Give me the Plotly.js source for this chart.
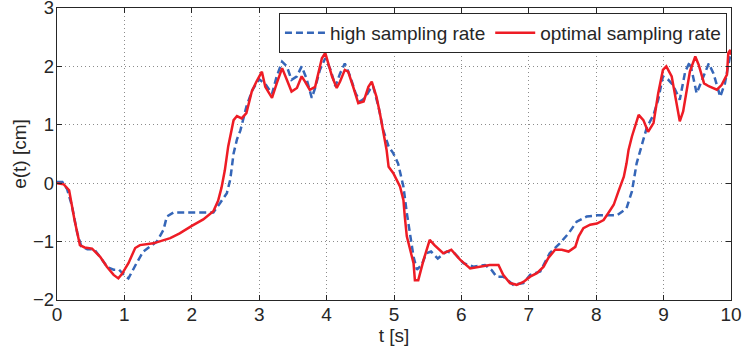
<!DOCTYPE html>
<html>
<head>
<meta charset="utf-8">
<script src="https://cdn.plot.ly/plotly-3.0.1.min.js"></script>
<style>html,body{margin:0;padding:0;background:#fff;}#chart{width:744px;height:351px;}</style>
</head>
<body>
<div id="chart"></div>
<script>
const tRed = [0,0.1,0.18,0.22,0.26,0.34,0.41,0.52,0.64,0.74,0.84,0.91,0.96,1.06,1.16,1.23,1.43,1.68,1.82,2.0,2.17,2.32,2.39,2.44,2.49,2.54,2.62,2.67,2.74,2.81,2.89,2.96,3.04,3.09,3.19,3.26,3.34,3.41,3.48,3.56,3.63,3.68,3.75,3.83,3.88,3.93,3.98,4.03,4.08,4.15,4.2,4.27,4.32,4.4,4.47,4.55,4.62,4.67,4.74,4.79,4.84,4.89,4.92,4.99,5.09,5.14,5.16,5.19,5.24,5.29,5.31,5.36,5.44,5.53,5.6,5.73,5.85,5.98,6.13,6.28,6.42,6.55,6.62,6.72,6.82,6.92,7.02,7.12,7.22,7.29,7.39,7.49,7.59,7.69,7.74,7.81,7.91,8.01,8.11,8.18,8.26,8.33,8.41,8.45,8.48,8.53,8.58,8.63,8.7,8.77,8.85,8.92,8.99,9.04,9.12,9.19,9.24,9.29,9.34,9.39,9.47,9.52,9.6,9.67,9.79,9.86,9.94,9.96,9.99,10];
const eRed = [0,-0.02,-0.12,-0.4,-0.63,-1.06,-1.1,-1.12,-1.26,-1.43,-1.57,-1.63,-1.56,-1.37,-1.11,-1.06,-1.03,-0.94,-0.86,-0.73,-0.62,-0.48,-0.3,-0.08,0.22,0.63,1.08,1.15,1.11,1.2,1.57,1.74,1.91,1.65,1.46,1.71,1.97,1.77,1.57,1.63,1.83,1.74,1.6,1.65,1.91,2.14,2.23,2.05,1.83,1.63,1.74,1.94,1.91,1.63,1.37,1.4,1.65,1.74,1.48,1.2,0.86,0.57,0.28,0.17,-0.06,-0.29,-0.57,-0.91,-1.14,-1.37,-1.66,-1.66,-1.31,-0.97,-1.06,-1.2,-1.14,-1.31,-1.46,-1.43,-1.4,-1.4,-1.57,-1.71,-1.74,-1.69,-1.6,-1.54,-1.43,-1.28,-1.14,-1.14,-1.17,-1.09,-0.91,-0.77,-0.71,-0.69,-0.63,-0.51,-0.37,-0.14,0.11,0.34,0.57,0.8,0.97,1.17,1.08,0.88,1.03,1.54,1.94,2.0,1.83,1.37,1.06,1.23,1.6,1.91,2.17,2.03,1.71,1.66,1.6,1.68,1.86,2.23,2.28,2.2];
const tBlue = [0,0.08,0.15,0.22,0.3,0.36,0.45,0.55,0.65,0.75,0.84,0.92,1.0,1.06,1.18,1.28,1.48,1.58,1.63,1.73,2.0,2.32,2.42,2.52,2.57,2.62,2.67,2.72,2.81,2.9,3.0,3.09,3.19,3.26,3.34,3.41,3.48,3.56,3.63,3.7,3.78,3.83,3.9,3.98,4.06,4.13,4.2,4.27,4.35,4.43,4.5,4.57,4.64,4.69,4.77,4.84,4.92,4.99,5.06,5.14,5.19,5.24,5.29,5.34,5.41,5.48,5.55,5.65,5.78,5.9,6.03,6.18,6.35,6.45,6.52,6.62,6.77,6.92,7.02,7.17,7.31,7.46,7.59,7.71,7.86,8.01,8.31,8.45,8.53,8.6,8.68,8.75,8.85,8.92,8.99,9.07,9.14,9.24,9.32,9.39,9.49,9.6,9.67,9.74,9.84,9.91,9.99,10];
const eBlue = [0.02,0.02,-0.1,-0.38,-0.85,-1.08,-1.13,-1.13,-1.28,-1.44,-1.48,-1.48,-1.58,-1.63,-1.37,-1.17,-1.0,-0.8,-0.57,-0.5,-0.5,-0.5,-0.34,-0.17,0.06,0.51,0.75,0.9,1.31,1.6,1.78,1.7,1.53,1.83,2.08,2.0,1.77,1.83,2.0,1.8,1.46,1.63,1.94,2.14,1.94,1.66,1.88,2.05,1.83,1.54,1.4,1.46,1.6,1.66,1.31,0.91,0.63,0.51,0.34,-0.06,-0.51,-0.86,-1.26,-1.48,-1.4,-1.2,-1.17,-1.29,-1.17,-1.2,-1.37,-1.43,-1.4,-1.49,-1.6,-1.6,-1.74,-1.71,-1.57,-1.51,-1.2,-1.03,-0.86,-0.66,-0.57,-0.55,-0.55,-0.43,-0.14,0.34,0.69,0.95,1.17,1.43,1.83,1.77,1.68,1.43,1.91,2.08,1.54,1.86,2.05,1.88,1.48,1.71,2.2,2.15];
const xTicks = [0,1,2,3,4,5,6,7,8,9,10];
const yTicks = [-2,-1,0,1,2,3];

const FONT = 'Liberation Sans, Arial, Helvetica, sans-serif';
const traces = [
  {x: tBlue, y: eBlue, type: 'scatter', mode: 'lines', name: 'high sampling rate',
   line: {color: '#3566b8', width: 2.5, dash: '7px,4px'}},
  {x: tRed, y: eRed, type: 'scatter', mode: 'lines', name: 'optimal sampling rate',
   line: {color: '#ee1c25', width: 2.5}}
];
const axisCommon = {
  showline: true, linecolor: '#262626', linewidth: 1.2, mirror: 'ticks',
  ticks: 'inside', ticklen: 5, tickcolor: '#262626',
  showgrid: true, gridcolor: '#8c8c8c', gridwidth: 1, griddash: '1px,3px',
  zeroline: false, ticklabeloverflow: 'allow',
  tickfont: {family: FONT, size: 19, color: '#262626'}
};
const layout = {
  width: 744, height: 351,
  margin: {l: 57, r: 13, t: 8, b: 51},
  paper_bgcolor: '#fff', plot_bgcolor: '#fff',
  showlegend: true,
  legend: {orientation: 'h', x: 0.994, xanchor: 'right', y: 0.983, yanchor: 'top',
    bgcolor: '#fff', bordercolor: '#262626', borderwidth: 1, itemwidth: 40,
    font: {family: FONT, size: 19, color: '#262626'}},
  xaxis: Object.assign({}, axisCommon, {range: [0, 10], tickvals: xTicks, ticktext: xTicks.map(String),
    ticklabelstandoff: -3,
    title: {text: 't [s]', font: {family: FONT, size: 19, color: '#262626'}, standoff: 0}}),
  yaxis: Object.assign({}, axisCommon, {range: [-2, 3], tickvals: yTicks, ticktext: yTicks.map(v => v < 0 ? '\u2212' + Math.abs(v) : String(v)),
    ticklabelstandoff: -2,
    tickfont: {family: FONT, size: 18.5, color: '#262626'},
    title: {text: 'e(t) [cm]', font: {family: FONT, size: 19, color: '#262626'}, standoff: 1}})
};
Plotly.newPlot('chart', traces, layout, {displayModeBar: false, staticPlot: true});
</script>
</body>
</html>
